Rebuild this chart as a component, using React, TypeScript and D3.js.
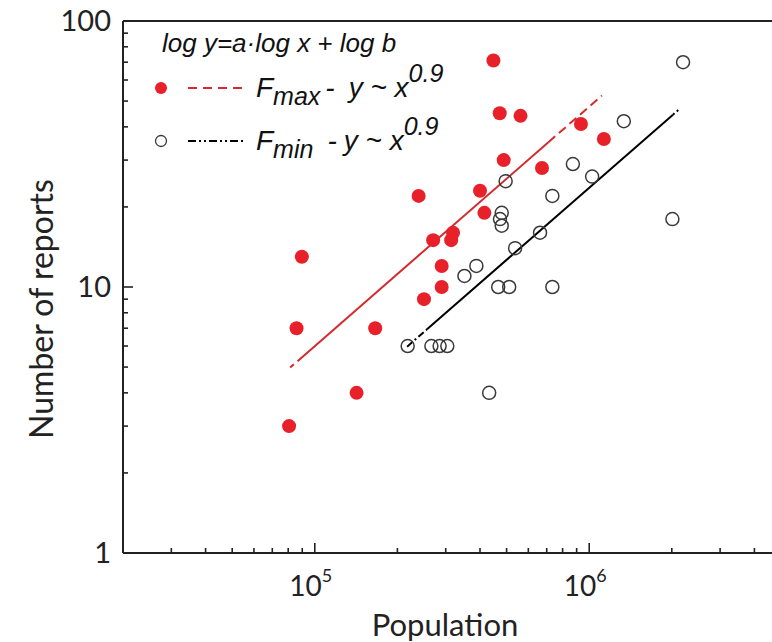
import React from "react";
import * as d3 from "d3";

// Cities: population vs. number of reports
const fmaxPopulation = [447700, 472000, 562000, 933000, 1131000, 488000, 673000, 239000, 400000, 415000, 319000, 314000, 270000, 89700, 290000, 290000, 250000, 85800, 166000, 142000, 80600];
const fmaxReports = [71, 45, 44, 41, 36, 30, 28, 22, 23, 19, 16, 15, 15, 13, 12, 10, 9, 7, 7, 4, 3];
const fminPopulation = [2198000, 1337000, 872000, 1025000, 496000, 734000, 480000, 473000, 480000, 2010000, 662000, 537000, 388000, 351000, 466000, 511000, 734000, 218000, 266000, 285000, 304000, 432000];
const fminReports = [70, 42, 29, 26, 25, 22, 19, 18, 17, 18, 16, 14, 12, 11, 10, 10, 10, 6, 6, 6, 6, 4];

// Power-law fits: log y = a·log x + log b
const fitExponent = 0.9;
const fmaxLogB = -3.722;
const fminLogB = -4.027;
// Population breakpoints where the fit line changes stroke style
const fmaxFitBreaks = [81300, 83900, 86500, 710000, 1112000];
const fminFitBreaks = [217000, 257000, 2020000, 2140000];

const xMajor = [1e5, 1e6];
const xMajorExp = ["5", "6"];
const xMinor = [3e4, 4e4, 5e4, 6e4, 7e4, 8e4, 9e4, 2e5, 3e5, 4e5, 5e5, 6e5, 7e5, 8e5, 9e5, 2e6, 3e6, 4e6];
const yMajor = [1, 10, 100];
const yMinor = [2, 3, 4, 5, 6, 7, 8, 9, 20, 30, 40, 50, 60, 70, 80, 90];

const W = 772;
const H = 642;
const RED = "#e8202a";
const RED_LINE = "#d42a2e";
const axisFont = "Lato, 'Open Sans', sans-serif";
const legendFont = "'Liberation Sans', Arial, sans-serif";

export default function App() {
  const x = d3.scaleLog().domain([2e4, 5e6]).range([123, 781]);
  const y = d3.scaleLog().domain([1, 100]).range([553, 21]);

  const fit = (logB: number) => (p: number) => Math.pow(10, fitExponent * Math.log10(p) + logB);
  const segPath = (logB: number, a: number, b: number) => {
    const f = fit(logB);
    return d3.line<number>().x((p) => x(p)).y((p) => y(f(p)))([a, b]) as string;
  };

  return (
    <svg width={W} height={H} style={{ position: "absolute", left: 0, top: 0, background: "#fff" }}>
      {/* frame */}
      <g stroke="#222" strokeWidth={2} fill="none">
        <line x1={x(2e4)} x2={W + 10} y1={y(100)} y2={y(100)} />
        <line x1={x(2e4)} x2={x(2e4)} y1={y(100)} y2={y(1)} />
        <line x1={x(2e4)} x2={W + 10} y1={y(1)} y2={y(1)} />
      </g>

      {/* ticks */}
      <g stroke="#222" strokeWidth={1.6}>
        {xMajor.map((v) => (
          <line key={"xM" + v} x1={x(v)} x2={x(v)} y1={y(1)} y2={y(1) - 10} />
        ))}
        {xMinor.map((v) => (
          <line key={"xm" + v} x1={x(v)} x2={x(v)} y1={y(1)} y2={y(1) - 5} />
        ))}
        {yMajor.map((v) => (
          <line key={"yM" + v} x1={x(2e4)} x2={x(2e4) + 10} y1={y(v)} y2={y(v)} />
        ))}
        {yMinor.map((v) => (
          <line key={"ym" + v} x1={x(2e4)} x2={x(2e4) + 5} y1={y(v)} y2={y(v)} />
        ))}
      </g>

      {/* tick labels and axis titles */}
      <g fontFamily={axisFont} fill="#222">
        {yMajor.map((v) => (
          <text key={"yl" + v} x={x(2e4) - 12} y={y(v)} dy="0.36em" textAnchor="end" fontSize={29}>
            {String(v)}
          </text>
        ))}
        {xMajor.map((v, i) => (
          <text key={"xl" + v} x={x(v) - 4} y={596} textAnchor="middle" fontSize={28}>
            10
            <tspan fontSize={18} dy={-14}>
              {xMajorExp[i]}
            </tspan>
          </text>
        ))}
        <text x={445} y={636} textAnchor="middle" fontSize={31}>
          Population
        </text>
        <text transform={`translate(53,${309}) rotate(-90)`} textAnchor="middle" fontSize={32}>
          Number of reports
        </text>
      </g>

      {/* fitted lines */}
      <g fill="none">
        <path d={segPath(fmaxLogB, fmaxFitBreaks[0], fmaxFitBreaks[1])} stroke={RED_LINE} strokeWidth={2} />
        <path d={segPath(fmaxLogB, fmaxFitBreaks[2], fmaxFitBreaks[3])} stroke={RED_LINE} strokeWidth={2} />
        <path d={segPath(fmaxLogB, fmaxFitBreaks[3], fmaxFitBreaks[4])} stroke={RED_LINE} strokeWidth={2} strokeDasharray="9,5" />
        <path d={segPath(fminLogB, fminFitBreaks[0], fminFitBreaks[1])} stroke="#000" strokeWidth={2} strokeDasharray="7,3,2,3" />
        <path d={segPath(fminLogB, fminFitBreaks[1], fminFitBreaks[2])} stroke="#000" strokeWidth={2} />
        <path d={segPath(fminLogB, fminFitBreaks[2], fminFitBreaks[3])} stroke="#000" strokeWidth={2} strokeDasharray="2,3" />
      </g>

      {/* points */}
      <g>
        {fminPopulation.map((p, i) => (
          <circle key={"n" + i} cx={x(p)} cy={y(fminReports[i])} r={6.5} fill="none" stroke="#3a3a3a" strokeWidth={1.5} />
        ))}
        {fmaxPopulation.map((p, i) => (
          <circle key={"x" + i} cx={x(p)} cy={y(fmaxReports[i])} r={7} fill={RED} />
        ))}
      </g>

      {/* legend */}
      <g fontFamily={legendFont} fontStyle="italic" fill="#111">
        <text x={162} y={52} fontSize={26}>
          log y=a·log x + log b
        </text>
        <circle cx={161} cy={88} r={6} fill={RED} />
        <line x1={188} x2={244} y1={88} y2={88} stroke={RED_LINE} strokeWidth={2} strokeDasharray="9,6" />
        <text x={256} y={97} fontSize={28}>
          F
          <tspan fontSize={25} dy={8}>max</tspan>
          <tspan dy={-8} dx={5}>-</tspan>
          <tspan dx={14}>{"y ~ x"}</tspan>
          <tspan fontSize={25} dy={-15}>0.9</tspan>
        </text>
        <circle cx={161} cy={141} r={5.5} fill="none" stroke="#3a3a3a" strokeWidth={1.3} />
        <line x1={188} x2={244} y1={141} y2={141} stroke="#000" strokeWidth={2} strokeDasharray="8,3,2,3,2,3" />
        <text x={256} y={150} fontSize={28}>
          F
          <tspan fontSize={25} dy={8}>min</tspan>
          <tspan dy={-8} dx={14}>-</tspan>
          <tspan dx={7}>{"y ~ x"}</tspan>
          <tspan fontSize={25} dy={-15}>0.9</tspan>
        </text>
      </g>
    </svg>
  );
}
